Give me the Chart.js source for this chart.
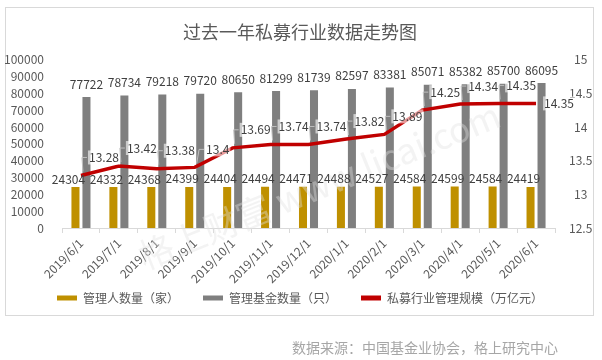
<!DOCTYPE html>
<html>
<head>
<meta charset="utf-8">
<script src="https://cdn.jsdelivr.net/npm/chart.js@4"></script>
<style>
  html, body { margin: 0; padding: 0; background: #fff; }
  #wrap { width: 602px; height: 360px; position: relative; }
</style>
</head>
<body>
<div id="wrap"><canvas id="privateFundChart" width="602" height="360"></canvas></div>
<script>
// 数据
const months = ['2019/6/1', '2019/7/1', '2019/8/1', '2019/9/1', '2019/10/1', '2019/11/1', '2019/12/1',
    '2020/1/1', '2020/2/1', '2020/3/1', '2020/4/1', '2020/5/1', '2020/6/1'];
const managerCount = [24304, 24332, 24368, 24399, 24404, 24494, 24471, 24488, 24527, 24584, 24599, 24584, 24419];
const fundCount = [77722, 78734, 79218, 79720, 80650, 81299, 81739, 82597, 83381, 85071, 85382, 85700, 86095];
const aumTrillion = [13.28, 13.42, 13.38, 13.4, 13.69, 13.74, 13.74, 13.82, 13.89, 14.25, 14.34, 14.35, 14.35];
const leftTicks = [0, 10000, 20000, 30000, 40000, 50000, 60000, 70000, 80000, 90000, 100000];
const rightTicks = [12.5, 13, 13.5, 14, 14.5, 15];

const FONT = '"Noto Sans CJK SC", "Noto Sans", sans-serif';
const TEXT = '#595959';

// 外框、水印、数据标签、数据来源
const decorations = {
    id: 'decorations',
    beforeDraw(chart) {
        const ctx = chart.ctx;
        ctx.save();
        ctx.fillStyle = '#fff';
        ctx.fillRect(0, 0, chart.width, chart.height);
        ctx.strokeStyle = '#d9d9d9';
        ctx.lineWidth = 1;
        ctx.strokeRect(5.5, 7.5, 588, 308);
        ctx.restore();
    },
    afterDatasetsDraw(chart) {
        const ctx = chart.ctx;
        ctx.save();

        // watermark
        ctx.translate(140, 258);
        ctx.rotate(-22 * Math.PI / 180);
        ctx.font = '35px ' + FONT;
        ctx.fillStyle = 'rgba(225,225,225,0.4)';
        ctx.fillText('格上财富 www.licai.com', 0, 0);
        ctx.setTransform(1, 0, 0, 1, 0, 0);

        ctx.font = '12px ' + FONT;
        ctx.fillStyle = '#404040';
        ctx.textAlign = 'center';
        ctx.textBaseline = 'middle';

        chart.getDatasetMeta(0).data.forEach((el, i) => {
            ctx.fillText(String(managerCount[i]), el.x - 7, el.y - 8);
        });
        chart.getDatasetMeta(1).data.forEach((el, i) => {
            ctx.fillText(String(fundCount[i]), el.x, el.y - 13);
        });

        const pts = chart.getDatasetMeta(2).data;
        pts.forEach((el, i) => {
            const txt = String(aumTrillion[i]);
            const last = i === pts.length - 1;
            const lx = el.x + 23;
            const ly = last ? el.y : el.y - 18;
            const w = ctx.measureText(txt).width;
            ctx.fillStyle = 'rgba(255,255,255,0.6)';
            ctx.fillRect(lx - w / 2 - 1, ly - 7, w + 2, 14);
            if (!last) {
                ctx.strokeStyle = '#bfbfbf';
                ctx.lineWidth = 1;
                ctx.beginPath();
                ctx.moveTo(lx - w / 2 - 2, ly);
                ctx.lineTo(lx - w / 2 - 7, ly);
                ctx.lineTo(el.x + 2, el.y - 4);
                ctx.stroke();
            }
            ctx.fillStyle = '#404040';
            ctx.fillText(txt, lx, ly);
        });
        ctx.restore();
    },
    afterDraw(chart) {
        const ctx = chart.ctx;
        ctx.save();
        ctx.font = '14px ' + FONT;
        ctx.fillStyle = '#a6a6a6';
        ctx.textAlign = 'right';
        ctx.textBaseline = 'middle';
        ctx.fillText('数据来源：中国基金业协会，格上研究中心', 558, 348);
        ctx.restore();
    }
};

new Chart(document.getElementById('privateFundChart'), {
    type: 'bar',
    data: {
        labels: months,
        datasets: [{
            label: '管理人数量（家）',
            data: managerCount,
            backgroundColor: '#bf9000',
            yAxisID: 'y',
            order: 1,
            categoryPercentage: 0.58,
            barPercentage: 0.73
        }, {
            label: '管理基金数量（只）',
            data: fundCount,
            backgroundColor: '#7f7f7f',
            yAxisID: 'y',
            order: 1,
            categoryPercentage: 0.58,
            barPercentage: 0.73
        }, {
            type: 'line',
            label: '私募行业管理规模（万亿元）',
            data: aumTrillion,
            borderColor: '#c00000',
            backgroundColor: '#c00000',
            borderWidth: 3.5,
            pointRadius: 0,
            tension: 0,
            fill: false,
            yAxisID: 'y1',
            order: 0
        }]
    },
    options: {
        responsive: false,
        animation: false,
        devicePixelRatio: 1,
        layout: { padding: { left: 5, right: 7, top: 0, bottom: 46 } },
        plugins: {
            title: {
                display: true,
                text: '过去一年私募行业数据走势图',
                color: TEXT,
                font: { family: FONT, size: 18, weight: 'normal' },
                padding: { top: 21, bottom: 17 }
            },
            legend: {
                position: 'bottom',
                labels: {
                    boxWidth: 20,
                    boxHeight: 5,
                    padding: 6,
                    color: TEXT,
                    font: { family: FONT, size: 12 },
                    // trailing ideographic spaces widen the gap between entries
                    generateLabels: chart => Chart.defaults.plugins.legend.labels.generateLabels(chart)
                        .sort((a, b) => a.datasetIndex - b.datasetIndex)
                        .map((item, i, arr) => Object.assign(item, {
                            text: i < arr.length - 1 ? item.text + '\u3000\u3000' : item.text,
                            lineWidth: 0
                        }))
                }
            },
            tooltip: { enabled: false }
        },
        scales: {
            x: {
                grid: { display: true, drawOnChartArea: false, color: '#d9d9d9', tickLength: 5 },
                border: { color: '#d9d9d9' },
                ticks: { color: TEXT, font: { family: FONT, size: 12 }, minRotation: 45, maxRotation: 45, autoSkip: false },
                afterFit: scale => { scale.height = 58; }
            },
            y: {
                position: 'left',
                min: leftTicks[0],
                max: leftTicks[leftTicks.length - 1],
                grid: { display: false },
                border: { display: false },
                afterBuildTicks: scale => { scale.ticks = leftTicks.map(v => ({ value: v })); },
                ticks: { color: TEXT, font: { family: FONT, size: 12 }, padding: 10, autoSkip: false, callback: v => String(v) },
                afterFit: scale => { scale.width = 57; }
            },
            y1: {
                position: 'right',
                min: rightTicks[0],
                max: rightTicks[rightTicks.length - 1],
                grid: { display: false },
                border: { display: false },
                afterBuildTicks: scale => { scale.ticks = rightTicks.map(v => ({ value: v })); },
                ticks: { color: TEXT, font: { family: FONT, size: 12 }, padding: 6, autoSkip: false, crossAlign: 'center', callback: v => String(v) },
                afterFit: scale => { scale.width = 40; }
            }
        }
    },
    plugins: [decorations]
});
</script>
</body>
</html>
